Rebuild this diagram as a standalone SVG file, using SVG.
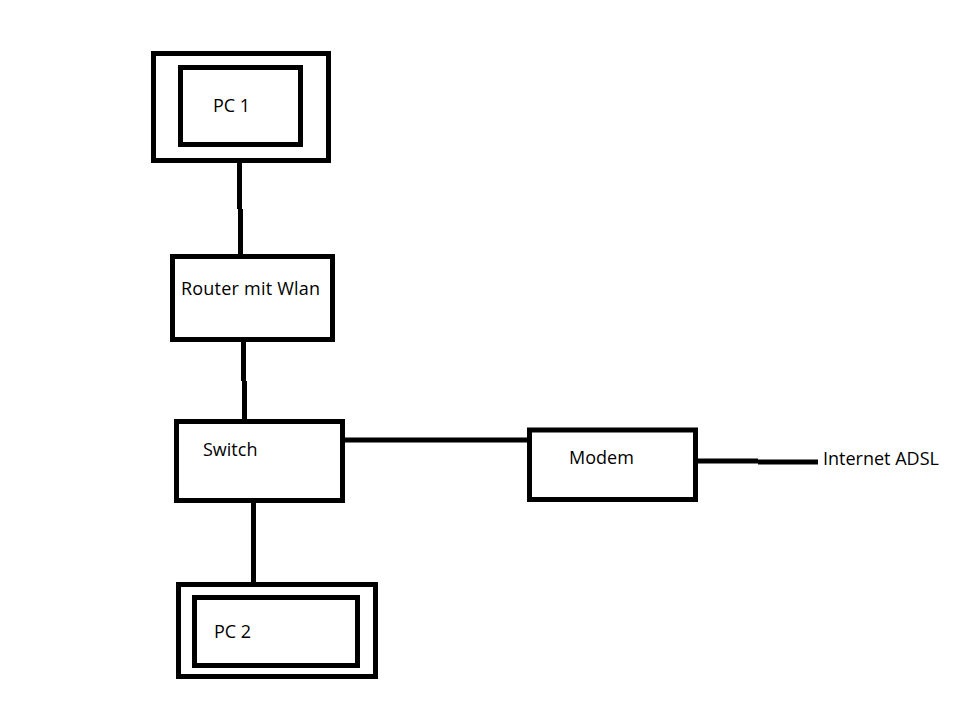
<svg xmlns="http://www.w3.org/2000/svg" width="960" height="720" viewBox="0 0 960 720">
<style>
.box{fill:#fff;stroke:#000;stroke-width:5}
.ln{fill:none;stroke:#000;stroke-width:5}
text{font-family:"Open Sans","Liberation Sans",sans-serif;font-size:18px;fill:#000}
</style>
<rect width="960" height="720" fill="#fff"/>
<g id="connectors">
<path class="ln" d="M239.5 162V209M240.5 209V254"/>
<path class="ln" d="M243.5 342V381M244.5 381V419"/>
<path class="ln" d="M345 440H527"/>
<path class="ln" d="M253.5 503V582"/>
<path class="ln" d="M697 461H758M758 462H818"/>
</g>
<g id="pc1">
<rect class="box" x="153.5" y="53.5" width="175" height="107"/>
<rect class="box" x="180.5" y="67.5" width="120" height="77"/>
<text x="213" y="112">PC 1</text>
</g>
<g id="router">
<rect class="box" x="172.5" y="256.5" width="160" height="83"/>
<text x="181" y="295" textLength="139">Router mit Wlan</text>
</g>
<g id="switch">
<rect class="box" x="176.5" y="421.5" width="166" height="79"/>
<text x="203" y="456">Switch</text>
</g>
<g id="modem">
<rect class="box" x="529.5" y="430" width="166" height="69.5"/>
<text x="569" y="464">Modem</text>
</g>
<g id="internet">
<text x="823" y="465">Internet ADSL</text>
</g>
<g id="pc2">
<rect class="box" x="178.5" y="584.5" width="197" height="92"/>
<rect class="box" x="194.5" y="597.5" width="163" height="68"/>
<text x="214" y="638">PC 2</text>
</g>
</svg>
